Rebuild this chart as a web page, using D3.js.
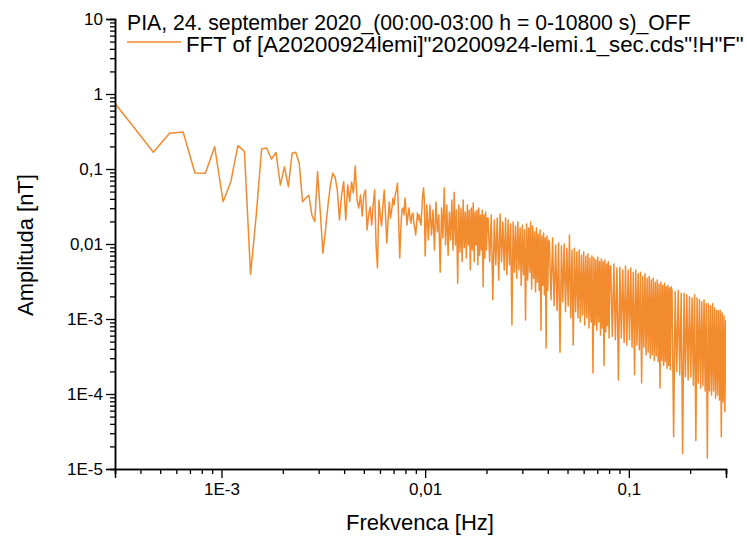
<!DOCTYPE html>
<html><head><meta charset="utf-8">
<script src="https://cdn.jsdelivr.net/npm/d3@7"></script>
<style>
html,body{margin:0;padding:0;background:#fff;}
svg{display:block;font-family:"Liberation Sans",Arial,sans-serif;}
</style></head>
<body>
<svg id="chart" width="747" height="537"></svg>
<script>
// ---- data ----
const recordLengthS = 10800;           // FFT bin spacing = 1/10800 Hz
const titleText = "PIA, 24. september 2020_(00:00-03:00 h = 0-10800 s)_OFF";
const legendText = "FFT of [A20200924lemi]\"20200924-lemi.1_sec.cds\"!H\"F\"";
const xLabel = "Frekvenca [Hz]";
const yLabel = "Amplituda [nT]";
const xMajorTicks = [1e-3, 1e-2, 1e-1];
const xMajorLabels = ["1E-3", "0,01", "0,1"];
const yMajorTicks = [10, 1, 0.1, 0.01, 1e-3, 1e-4, 1e-5];
const yMajorLabels = ["10", "1", "0,1", "0,01", "1E-3", "1E-4", "1E-5"];

// low-frequency part: every bin from k = 3 upward
const lowStartBin = 3;
const lowAmp = [0.97,0.363,0.167,0.299,0.311,0.0885,0.0877,0.198,0.0367,0.0677,
0.205,0.172,0.00394,0.0244,0.185,0.191,0.135,0.167,0.0612,0.107,
0.0581,0.162,0.167,0.119,0.0367,0.041,0.0446,0.0244,0.0199,0.0924,
0.0267,0.0075,0.0154,0.0331,0.0612,0.0877,0.0782,0.0525,0.0209,0.045,
0.0677,0.0209,0.0612,0.0367,0.067,0.0479,0.11,0.0386,0.0302,0.045,
0.0237,0.045,0.0525,0.0154,0.0244,0.0311,0.0179,0.0331,0.0525,0.0097,
0.0048,0.0386,0.0244,0.0174,0.0331,0.0525,0.0244,0.0103,0.0209,0.0362,
0.0222,0.0284,0.041,0.0331,0.045,0.0525,0.0648,0.0209,0.0065,0.0154,
0.0284,0.0302,0.0244,0.041,0.0284,0.0179,0.0244,0.0302,0.0222,0.019,
0.0244,0.0259,0.0196,0.0163,0.0132,0.0179,0.0259,0.0209,0.0244,0.0196,
0.0179,0.0284,0.045,0.0558,0.0386,0.0069,0.0154];

// dense part: sampled bins (start bin, bin step) per segment
const segStartBins = [110, 220, 440, 880, 1760];
const segBinSteps = [2, 4, 8, 16, 32];
const seg1Amp = [0.0331,0.0113,0.0331,0.0132,0.0284,0.0083,0.0362,0.0145,0.0244,0.0042,
0.0302,0.012,0.056,0.0097,0.0331,0.0071,0.0267,0.0113,0.0386,0.0083,
0.049,0.0097,0.0284,0.003,0.0331,0.0078,0.0302,0.0058,0.0386,0.0089,
0.0267,0.0065,0.0331,0.0097,0.0284,0.0045,0.0302,0.0083,0.0351,0.0058,
0.0267,0.0097,0.0284,0.0053,0.0302,0.0071,0.0244,0.0083,0.0284,0.0027,
0.0244,0.0065,0.0267,0.0083,0.0222];
const seg2Amp = [0.0222,0.0058,0.0244,0.0018,0.0209,0.0053,0.0222,0.0033,0.0252,0.0058,
0.0197,0.0045,0.0222,0.0039,0.0209,0.0053,0.0185,0.00083,0.0197,0.0042,
0.0174,0.0035,0.0197,0.0045,0.0164,0.0028,0.0179,0.0039,0.0154,0.00097,
0.0185,0.0033,0.0164,0.0042,0.0197,0.0025,0.0174,0.0035,0.0145,0.0023,
0.0164,0.0031,0.0136,0.0024,0.0154,0.00071,0.0128,0.0028,0.014,0.0021,
0.012,0.00041,0.0128,0.0024,0.0113];
const seg3Amp = [0.0106,0.0018,0.012,0.0015,0.0097,0.0013,0.0103,0.00036,0.0094,0.0017,
0.01,0.00125,0.0088,0.0015,0.0132,0.00104,0.0083,0.00045,0.0088,0.00125,
0.0078,0.00104,0.0083,0.00091,0.0071,0.00113,0.0078,0.00083,0.0069,0.00104,
0.0074,0.00076,0.0065,0.00091,0.0069,0.00019,0.0065,0.00083,0.0061,0.00071,
0.0067,0.00091,0.0059,0.00061,0.0063,0.00076,0.0058,0.00024,0.0061,0.00067,
0.0054,0.00081,0.0058,0.00056,0.0051];
const seg4Amp = [0.0051,0.00059,0.0054,0.00053,0.0048,0.000154,0.0049,0.00056,0.0045,0.00049,
0.0051,0.00045,0.0045,0.00053,0.0048,0.00042,0.0042,0.00018,0.0045,0.00045,
0.004,0.00039,0.0042,0.00014,0.0037,0.00042,0.004,0.00033,0.0035,0.00036,
0.0037,0.0003,0.0033,0.00033,0.0035,0.00028,0.0031,0.00032,0.0033,0.00027,
0.0029,0.00012,0.0031,0.00028,0.0028,0.00024,0.003,0.00027,0.0027,0.00022,
0.0028,0.00024,0.0026,0.00021,0.0027];
const seg5Amp = [0.0024,0.000027,0.0023,0.0002,0.0024,0.00018,0.0022,0.000016,0.0022,0.00017,
0.0021,0.000154,0.002,0.00017,0.0019,0.00013,0.0021,0.000024,0.0019,0.00014,
0.0018,0.00012,0.0017,0.00013,0.0018,0.00011,0.0016,0.000014,0.0016,0.00011,
0.0015,0.000097,0.0016,0.00011,0.0014,0.000088,0.0013,0.000097,0.0013,0.000083,
0.0013,0.000027,0.0012,0.000078,0.0011,0.000058,0.00097];
const segAmps = [seg1Amp, seg2Amp, seg3Amp, seg4Amp, seg5Amp];

// ---- build series ----
const series = [];
lowAmp.forEach((a, i) => series.push({f: (lowStartBin + i) / recordLengthS, a}));
segAmps.forEach((arr, s) => arr.forEach((a, i) =>
  series.push({f: (segStartBins[s] + i * segBinSteps[s]) / recordLengthS, a})));

// ---- layout ----
const svg = d3.select("#chart");
const L = 115, R = 726, T = 19, B = 469;
const x = d3.scaleLog().domain([3e-4, 0.3]).range([L, R]);
const y = d3.scaleLog().domain([1e-5, 10]).range([B, T]);
const color = "#F28A2E";

svg.append("rect").attr("width", 747).attr("height", 537).attr("fill", "#fff");

svg.append("clipPath").attr("id", "clip").append("rect")
  .attr("x", L).attr("y", T - 5).attr("width", R - L).attr("height", B - T + 5);

svg.append("path").datum(series)
  .attr("clip-path", "url(#clip)")
  .attr("fill", "none").attr("stroke", color).attr("stroke-width", 1.5)
  .attr("stroke-linejoin", "round")
  .attr("d", d3.line().x(d => x(d.f)).y(d => y(d.a)));

// minor ticks
const xMinor = [];
[1e-4, 1e-3, 1e-2, 1e-1].forEach(dec => { for (let m = 2; m <= 9; m++) { const v = m * dec; if (v >= 3e-4 - 1e-12 && v <= 0.3 + 1e-12) xMinor.push(v); } });
const yMinor = [];
[1e-5, 1e-4, 1e-3, 1e-2, 1e-1, 1].forEach(dec => { for (let m = 2; m <= 9; m++) yMinor.push(m * dec); });

const xAxisG = svg.append("g").attr("transform", `translate(0,${B})`);
xAxisG.append("g").call(d3.axisBottom(x).tickValues(xMinor).tickSize(5).tickFormat(""));
xAxisG.append("g").call(d3.axisBottom(x).tickValues(xMajorTicks).tickSize(9).tickPadding(5)
  .tickFormat((d, i) => xMajorLabels[i]));

const yAxisG = svg.append("g").attr("transform", `translate(${L},0)`);
yAxisG.append("g").call(d3.axisLeft(y).tickValues(yMinor).tickSize(5).tickFormat(""));
yAxisG.append("g").call(d3.axisLeft(y).tickValues(yMajorTicks).tickSize(9).tickPadding(3)
  .tickFormat((d, i) => yMajorLabels[i]));

svg.selectAll(".domain").attr("stroke", "#000").attr("stroke-width", 1.5);
svg.selectAll(".tick line").attr("stroke", "#000").attr("stroke-width", 1.3);
svg.selectAll(".tick text").attr("fill", "#000").style("font-size", "17px")
  .style("font-family", '"Liberation Sans",Arial,sans-serif');

// axis titles
svg.append("text").attr("x", 420).attr("y", 530).attr("text-anchor", "middle")
  .style("font-size", "22px").attr("fill", "#000").text(xLabel);
svg.append("text").attr("transform", "translate(33,245) rotate(-90)").attr("text-anchor", "middle")
  .style("font-size", "22px").attr("fill", "#000").text(yLabel);

// title + legend
svg.append("text").attr("x", 127).attr("y", 30).style("font-size", "21.2px").attr("fill", "#000").text(titleText);
svg.append("line").attr("x1", 127).attr("x2", 181).attr("y1", 42).attr("y2", 42)
  .attr("stroke", color).attr("stroke-width", 1.6);
svg.append("text").attr("x", 186).attr("y", 52).style("font-size", "22.2px").attr("fill", "#000").text(legendText);
</script>
</body></html>
